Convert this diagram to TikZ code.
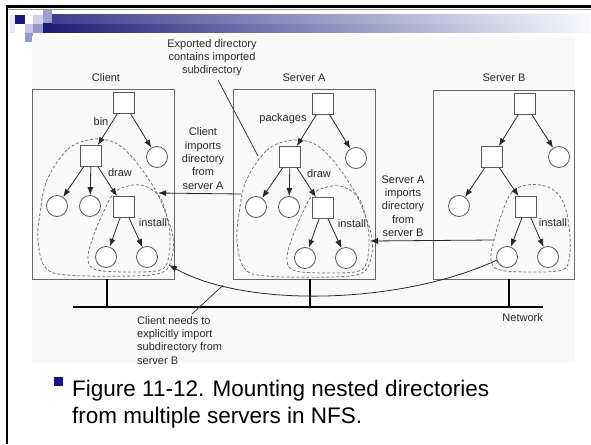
\documentclass[tikz,border=0pt]{standalone}
\usepackage{fontspec}
\setmainfont{Liberation Sans}
\usetikzlibrary{arrows.meta,calc}

\definecolor{hdrnavy}{RGB}{28,28,120}
\definecolor{bulletnavy}{RGB}{20,20,140}
\definecolor{tileA}{RGB}{208,208,232}
\definecolor{tileB}{RGB}{160,160,208}
\definecolor{tileC}{RGB}{200,200,228}
\definecolor{tileD}{RGB}{152,152,204}
\definecolor{tileE}{RGB}{232,232,242}
\definecolor{figbg}{RGB}{249,249,249}
\definecolor{ink}{RGB}{40,40,40}

\tikzset{
  dirbox/.style={draw=black!65, fill=white, minimum size=21pt, inner sep=0pt, line width=0.8pt},
  filenode/.style={circle, draw=black!65, fill=white, minimum size=21pt, inner sep=0pt, line width=0.8pt},
  arr/.style={draw=ink, line width=0.8pt, -{Latex[length=8pt,width=6pt]}},
  lbl/.style={font=\fontsize{11}{13.3}\selectfont, text=ink, inner sep=0pt, align=center},
  mountloop/.style={draw=black!55, line width=0.8pt, dash pattern=on 3pt off 2pt},
  hostbox/.style={draw=black!60, line width=0.9pt, inner sep=0pt},
  netline/.style={draw=black, line width=1.8pt},
  leader/.style={draw=ink, line width=0.7pt},
  captionfont/.style={font=\fontsize{22.5}{27}\selectfont, inner sep=0pt, text=black}
}

% One directory tree with its two mount regions (used for the client and server A)
\newcommand\dirtreeA{%
  \draw[mountloop] plot[smooth cycle, tension=0.6] coordinates {
    (88,140) (67,150) (47,180) (40,213) (38,240) (45,267) (67,275) (133,276)
    (163,272) (172,257) (173,237) (167,217) (157,193) (140,167) (123,148) (107,140)};
  \draw[mountloop] plot[smooth cycle, tension=0.6] coordinates {
    (133,185) (115,192) (103,213) (92,240) (88,260) (97,270) (133,272)
    (160,270) (168,260) (170,237) (167,217) (160,197) (147,187)};
  \node[dirbox] (R) at (124,103) {};
  \node[dirbox] (A) at (91,156) {};
  \node[filenode] (B) at (157,157) {};
  \node[filenode] (C1) at (57,206) {};
  \node[filenode] (C2) at (90,206) {};
  \node[dirbox] (S) at (124,207) {};
  \node[filenode] (D1) at (106,257) {};
  \node[filenode] (D2) at (147,257) {};
  \draw[arr] (R) -- (A);
  \draw[arr] (R) -- (B);
  \draw[arr] (A) -- (C1);
  \draw[arr] (A) -- (C2);
  \draw[arr] (A) -- (S);
  \draw[arr] (S) -- (D1);
  \draw[arr] (S) -- (D2);
  \node[lbl] (ldraw) at (120,173) {draw};
  \node[lbl] (linstall) at (153,223) {install};
  % attachment points on the mount regions
  \coordinate (outerL) at (42,193);
  \coordinate (outerR) at (158,193);
  \coordinate (outerT) at (59,155);
  \coordinate (innerR) at (171,240);
  \coordinate (innerB) at (169,265);
}

\begin{document}
\begin{tikzpicture}[x=1pt,y=-1pt]
\useasboundingbox (0,0) rectangle (591,444);
\fill[white] (0,0) rectangle (591,444);

% slide frame
\draw[line width=2.5pt, black] (6,6.5) -- (591,6.5);
\draw[line width=0.8pt, black!40] (8,9.3) -- (591,9.3);
\draw[line width=2.5pt, black] (7,5.3) -- (7,444);

% title bar with tiles
\fill[tileE] (10,15) rectangle (15,33);
\fill[hdrnavy] (15,15) rectangle (25,24);
\fill[tileA] (33,15) rectangle (43,24);
\fill[tileB] (43,10) rectangle (52,24);
\fill[tileC] (25,24) rectangle (33,33);
\fill[tileD] (33,24) rectangle (43,33);
\fill[tileD] (25,33) rectangle (33,42);
\shade[left color=hdrnavy, right color=white!97!blue] (43,24) rectangle (590,33);
\shade[left color=hdrnavy!85!white, right color=white!97!blue] (52,15) rectangle (590,24);

% figure background
\fill[figbg] (32,36) rectangle (575,363);

% host boxes
\node[hostbox, minimum width=142pt, minimum height=190pt] (clientbox) at (103,184) {};
\node[hostbox, minimum width=142pt, minimum height=190pt] (sabox) at (304,184) {};
\node[hostbox, minimum width=141pt, minimum height=189pt] (sbbox) at (503.5,184.5) {};

\node[lbl] (clientname) at (106,78) {Client};
\node[lbl] (saname) at (304,78) {Server A};
\node[lbl] (sbname) at (504,78) {Server B};

% client tree
\begin{scope}[name prefix=cl-]
  \dirtreeA
  \node[lbl] (lbin) at (101,122) {bin};
\end{scope}

% server A tree
\begin{scope}[shift={(199,1)}, name prefix=sa-]
  \dirtreeA
  \node[lbl] (lpackages) at (84,118) {packages};
\end{scope}

% server B tree
\begin{scope}[shift={(402,0)}, name prefix=sb-]
  \draw[mountloop] plot[smooth cycle, tension=0.6] coordinates {
    (125,185) (110,192) (100,213) (92,240) (89,260) (98,270) (133,272)
    (160,270) (167,260) (168,237) (164,210) (156,194) (143,186)};
  \node[dirbox] (R) at (123,104) {};
  \node[dirbox] (A) at (90,157) {};
  \node[filenode] (B) at (157,157) {};
  \node[filenode] (C1) at (57,206) {};
  \node[dirbox] (S) at (124,207) {};
  \node[filenode] (D1) at (105,257) {};
  \node[filenode] (D2) at (146,257) {};
  \draw[arr] (R) -- (A);
  \draw[arr] (R) -- (B);
  \draw[arr] (A) -- (C1);
  \draw[arr] (A) -- (S);
  \draw[arr] (S) -- (D1);
  \draw[arr] (S) -- (D2);
  \node[lbl] (linstall) at (151,223) {install};
  \coordinate (innerL) at (92,240);
  \coordinate (innerBL) at (95,260);
\end{scope}

% network
\coordinate (netL) at (73,307);
\coordinate (netR) at (543,307);
\coordinate (tapC) at (107,307);
\coordinate (tapA) at (310,307);
\coordinate (tapB) at (509,307);
\draw[netline] (netL) -- (netR);
\draw[netline] (tapC) -- (tapC |- clientbox.south);
\draw[netline] (tapA) -- (tapA |- sabox.south);
\draw[netline] (tapB) -- (tapB |- sbbox.south);
\node[lbl, anchor=east] (netname) at (543,318) {Network};

% mounts between hosts
\draw[arr] (sa-outerL) -- (cl-outerR);
\draw[arr] (sb-innerL) -- (sa-innerR);
\draw[arr] (sb-innerBL) .. controls (400,305) and (245,308) .. (cl-innerB)
  coordinate[pos=0.8] (cv);

% annotations
\node[lbl] (clientimports) at (203,158.5) {Client\\imports\\directory\\from\\server A};
\node[lbl] (saimports) at (403,206) {Server A\\imports\\directory\\from\\server B};
\node[lbl] (exported) at (212,57.5) {Exported directory\\contains imported\\subdirectory};
\coordinate (expfoot) at (218,80);
\draw[leader] (expfoot) -- (sa-outerT);
\node[lbl, align=left, anchor=north west] (needs) at (137,316) {Client needs to\\explicitly import\\subdirectory from\\server B};
\coordinate (needstop) at (192,314);
\draw[leader] (needstop) -- (cv);

% caption
\node[fill=bulletnavy, minimum size=9pt, inner sep=0pt] (bullet) at (58.5,381.5) {};
\node[captionfont, anchor=base west] (cap1) at (72,396) {Figure 11-12. Mounting nested directories};
\node[captionfont, anchor=base west] (cap2) at (72,423) {from multiple servers in NFS.};
\end{tikzpicture}
\end{document}
